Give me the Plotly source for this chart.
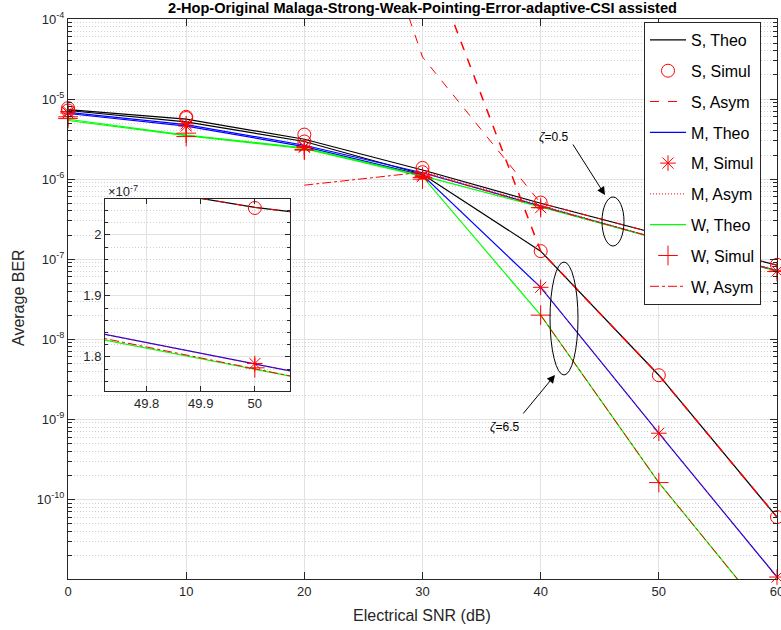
import plotly.graph_objects as go

FONT = "Liberation Sans, Arial, Helvetica, sans-serif"

# ---------------- data ----------------
snr = [0, 10, 20, 30, 40, 50, 60]

# zeta = 0.5 branch
s_theo_05 = [7.4e-6, 5.6e-6, 3.15e-6, 1.30e-6, 5.0e-7, 2.045e-7, 8.4e-8]
s_sim_05 = [7.7e-6, 6.0e-6, 3.6e-6, 1.38e-6, 5.1e-7, 2.044e-7, 8.5e-8]
m_theo_05 = [6.8e-6, 4.8e-6, 2.65e-6, 1.20e-6, 4.6e-7, 1.788e-7, 7.2e-8]
m_sim_05 = [7.0e-6, 4.6e-6, 2.55e-6, 1.12e-6, 4.4e-7, 1.789e-7, 7.1e-8]
w_theo_05 = [5.6e-6, 3.55e-6, 2.45e-6, 1.10e-6, 4.5e-7, 1.780e-7, 7.1e-8]
w_sim_05 = [6.0e-6, 3.75e-6, 2.35e-6, 1.05e-6, 4.4e-7, 1.782e-7, 7.0e-8]
snr_s_asym_05 = [20, 30, 40, 50, 60]
s_asym_05 = [0.7, 3.35e-5, 5.0e-7, 2.045e-7, 8.4e-8]
snr_m_asym_05 = [30, 40, 50, 60]
m_asym_05 = [1.25e-6, 4.7e-7, 1.79e-7, 7.2e-8]
snr_w_asym_05 = [20, 30, 40, 50, 60]
w_asym_05 = [8.4e-7, 1.22e-6, 4.55e-7, 1.781e-7, 7.1e-8]

# zeta = 6.5 branch
s_theo_65 = [7.2e-6, 5.2e-6, 2.95e-6, 1.15e-6, 1.26e-7, 3.55e-9, 6.0e-11]
s_sim_65 = [7.2e-6, 5.8e-6, 2.95e-6, 1.22e-6, 1.26e-7, 3.55e-9, 6.0e-11]
m_theo_65 = [6.6e-6, 4.6e-6, 2.55e-6, 1.12e-6, 4.45e-8, 6.7e-10, 1.07e-11]
m_sim_65 = [6.7e-6, 4.9e-6, 2.5e-6, 1.08e-6, 4.45e-8, 6.7e-10, 1.07e-11]
w_theo_65 = [5.4e-6, 3.5e-6, 2.4e-6, 1.08e-6, 2.0e-8, 1.62e-10, 2.5e-12]
w_sim_65 = [5.7e-6, 3.4e-6, 2.3e-6, 1.0e-6, 2.0e-8, 1.62e-10, 2.5e-12]
snr_s_asym_65 = [30, 40, 50, 60]
s_asym_65 = [9.5e-4, 1.26e-7, 3.55e-9, 6.0e-11]
snr_mw_asym_65 = [40, 50, 60]
m_asym_65 = [4.45e-8, 6.7e-10, 1.07e-11]
w_asym_65 = [2.0e-8, 1.62e-10, 2.5e-12]

# inset (zoom around 50 dB, values in units of 1e-7)
inset_snr = [49.7, 50.0, 50.1]
inset_s = [2.089, 2.045, 2.034]
inset_m = [1.8408, 1.7883, 1.7708]
inset_w = [1.8315, 1.7796, 1.7623]
inset_w_asym = [1.834, 1.7805, 1.7625]
INSET_SCALE = 1e-7

y_tick_vals = [1e-10, 1e-9, 1e-8, 1e-7, 1e-6, 1e-5, 1e-4]
y_tick_text = ["10<sup>-10</sup>", "10<sup>-9</sup>", "10<sup>-8</sup>", "10<sup>-7</sup>",
               "10<sup>-6</sup>", "10<sup>-5</sup>", "10<sup>-4</sup>"]
x_tick_vals = [0, 10, 20, 30, 40, 50, 60]

RED = "#ff0000"
BLUE = "#0000ff"
GREEN = "#00ff00"
BLACK = "#000000"

RANK = {"g1": 1, "g2": 2, "g3": 3, "g4": 4, "g5": 5, "g6": 6, "g7": 7, "g8": 8, "g9": 9}

fig = go.Figure()


def line(x, y, color, name, group, show, dash="solid", width=1.2, xa="x", ya="y"):
    fig.add_trace(go.Scatter(x=x, y=y, mode="lines", name=name, legendgroup=group,
                             legendrank=RANK[group],
                             showlegend=show, line=dict(color=color, width=width, dash=dash),
                             xaxis=xa, yaxis=ya))


def marks(x, y, symbol, size, name, group, show, xa="x", ya="y", clip=False):
    fig.add_trace(go.Scatter(x=x, y=y, mode="markers", name=name, legendgroup=group,
                             legendrank=RANK[group],
                             showlegend=show, cliponaxis=clip,
                             marker=dict(symbol=symbol, size=size, color=RED,
                                         line=dict(color=RED, width=1)),
                             xaxis=xa, yaxis=ya))


# theoretical
line(snr, s_theo_05, BLACK, "S, Theo", "g1", True)
line(snr, s_theo_65, BLACK, "S, Theo", "g1", False)
line(snr, m_theo_05, BLUE, "M, Theo", "g4", True)
line(snr, m_theo_65, BLUE, "M, Theo", "g4", False)
line(snr, w_theo_05, GREEN, "W, Theo", "g7", True)
line(snr, w_theo_65, GREEN, "W, Theo", "g7", False)
# asymptotic
line(snr_s_asym_05, s_asym_05, RED, "S, Asym", "g3", True, "dash", 1)
line(snr_s_asym_65, s_asym_65, RED, "S, Asym", "g3", False, "dash", 1.5)
line(snr_m_asym_05, m_asym_05, RED, "M, Asym", "g6", True, "1px,2px", 1)
line(snr_mw_asym_65, m_asym_65, RED, "M, Asym", "g6", False, "1px,2px", 1)
line(snr_w_asym_05, w_asym_05, RED, "W, Asym", "g9", True, "dashdot", 1)
line(snr_mw_asym_65, w_asym_65, RED, "W, Asym", "g9", False, "dashdot", 1)
# simulation
marks(snr, s_sim_05, "circle-open", 13, "S, Simul", "g2", True)
marks(snr, s_sim_65, "circle-open", 13, "S, Simul", "g2", False)
marks(snr, m_sim_05, "asterisk-open", 13, "M, Simul", "g5", True)
marks(snr, m_sim_65, "asterisk-open", 13, "M, Simul", "g5", False)
marks(snr, w_sim_05, "cross-thin-open", 14, "W, Simul", "g8", True)
marks(snr, w_sim_65, "cross-thin-open", 14, "W, Simul", "g8", False)

# inset
line(inset_snr, inset_s, BLACK, "S", "g1", False, xa="x2", ya="y2")
line(inset_snr, inset_s, RED, "S", "g3", False, "dash", 1, xa="x2", ya="y2")
line(inset_snr, inset_m, BLUE, "M", "g4", False, xa="x2", ya="y2")
line(inset_snr, inset_m, RED, "M", "g6", False, "1px,2px", 1, xa="x2", ya="y2")
line(inset_snr, inset_w, GREEN, "W", "g7", False, xa="x2", ya="y2")
line(inset_snr, inset_w_asym, RED, "W", "g9", False, "dashdot", 1, xa="x2", ya="y2")
marks(snr, [v / INSET_SCALE for v in s_sim_05], "circle-open", 13, "S", "g2", False, "x2", "y2", True)
marks(snr, [v / INSET_SCALE for v in m_sim_05], "asterisk-open", 13, "M", "g5", False, "x2", "y2", True)
marks(snr, [v / INSET_SCALE for v in w_sim_05], "cross-thin-open", 14, "W", "g8", False, "x2", "y2", True)

# ---------------- layout ----------------
W, H = 781, 630
L, R, T, B = 68, 4, 19, 51
PW, PH = W - L - R, H - T - B


def px(xp):
    return (xp - L) / PW


def py(yp):
    return (H - B - yp) / PH


minor_y = [k * 10.0 ** e for e in range(-11, -4) for k in range(2, 10)]
minor_y = [v for v in minor_y if 1.0e-11 < v < 1e-4]

axis_common = dict(showline=True, linecolor="#262626", linewidth=1, mirror="ticks",
                   ticks="inside", tickcolor="#262626", tickwidth=1, gridcolor="#e2e2e2",
                   gridwidth=1, zeroline=False, ticklabeloverflow="allow", automargin=False,
                   tickfont=dict(family=FONT, size=13, color="#262626"))

fig.update_layout(
    width=W, height=H,
    margin=dict(l=L, r=R, t=T, b=B, pad=0, autoexpand=False),
    paper_bgcolor="white", plot_bgcolor="white",
    font=dict(family=FONT, color="#262626"),
    title=dict(text="<b>2-Hop-Original Malaga-Strong-Weak-Pointing-Error-adaptive-CSI assisted</b>",
               x=0.5, xref="paper", xanchor="center", y=1 - 8 / H, yref="container",
               yanchor="middle", font=dict(family=FONT, size=14.6, color="black")),
    xaxis=dict(axis_common, range=[0, 60], tickvals=x_tick_vals, ticklen=7, domain=[0, 1]),
    yaxis=dict(axis_common, type="log", range=[-10.995, -4], tickvals=y_tick_vals,
               ticktext=y_tick_text, ticklen=7, domain=[0, 1],
               minor=dict(tickvals=minor_y, ticks="inside", ticklen=4, tickcolor="#262626",
                          showgrid=True, gridcolor="#cfcfcf", griddash="1px,2px", gridwidth=1)),
    xaxis2=dict(axis_common, range=[49.723, 50.065], tickvals=[49.8, 49.9, 50],
                ticktext=["49.8", "49.9", "50"], ticklen=5, anchor="y2",
                domain=[px(105), px(290)]),
    yaxis2=dict(axis_common, range=[1.744, 2.0587], tickvals=[1.8, 1.9, 2.0],
                ticktext=["1.8", "1.9", "2"], ticklen=5, anchor="x2",
                domain=[py(391), py(199)],
                minor=dict(tickvals=[1.76, 1.78, 1.82, 1.84, 1.86, 1.88, 1.92, 1.94, 1.96,
                                     1.98, 2.02, 2.04], ticks="inside", ticklen=3,
                           tickcolor="#262626", showgrid=True, gridcolor="#cfcfcf",
                           griddash="1px,2px", gridwidth=1)),
    legend=dict(x=px(644), y=py(22), xanchor="left", yanchor="top", bgcolor="white",
                bordercolor="#262626", borderwidth=1, traceorder="grouped",
                tracegroupgap=7, itemwidth=36,
                font=dict(family=FONT, size=16, color="black")),
    showlegend=True,
)

annotations = [
    dict(text="Electrical SNR (dB)", x=px(422), y=py(615), xref="paper", yref="paper",
         showarrow=False, font=dict(family=FONT, size=16, color="#262626"),
         xanchor="center", yanchor="middle"),
    dict(text="Average BER", x=px(18), y=py(298), xref="paper", yref="paper",
         showarrow=False, textangle=-90, font=dict(family=FONT, size=16, color="#262626"),
         xanchor="center", yanchor="middle"),
    dict(text="×10<sup>-7</sup>", x=px(106), y=py(191), xref="paper", yref="paper",
         showarrow=False, font=dict(family=FONT, size=13, color="#262626"),
         xanchor="left", yanchor="middle"),
    dict(text="<i>ζ</i>=0.5", x=px(554), y=py(137), xref="paper", yref="paper",
         showarrow=False, font=dict(family=FONT, size=12, color="black"),
         xanchor="center", yanchor="middle"),
    dict(text="<i>ζ</i>=6.5", x=px(505), y=py(427), xref="paper", yref="paper",
         showarrow=False, font=dict(family=FONT, size=12, color="black"),
         xanchor="center", yanchor="middle"),
    dict(text="", x=px(605), y=py(195), xref="paper", yref="paper", showarrow=True,
         ax=-33, ay=-52, arrowhead=2, arrowsize=1.6, arrowwidth=1, arrowcolor="black",
         standoff=0),
    dict(text="", x=px(555), y=py(375), xref="paper", yref="paper", showarrow=True,
         ax=-33, ay=40, arrowhead=2, arrowsize=1.6, arrowwidth=1, arrowcolor="black",
         standoff=0),
]
fig.update_layout(annotations=annotations)

fig.add_shape(type="circle", xref="paper", yref="paper", x0=px(602), x1=px(624),
              y0=py(246), y1=py(197), line=dict(color="black", width=1))
fig.add_shape(type="circle", xref="paper", yref="paper", x0=px(550), x1=px(578),
              y0=py(375), y1=py(262), line=dict(color="black", width=1))

fig.write_html("out.html")
